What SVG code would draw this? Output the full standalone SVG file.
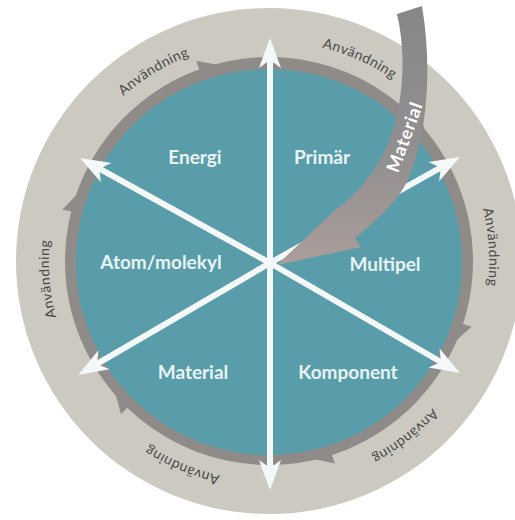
<svg xmlns="http://www.w3.org/2000/svg" xmlns:xlink="http://www.w3.org/1999/xlink" width="515" height="520" viewBox="0 0 515 520">
  <style>
    .node-label { font-family: Lato, "Liberation Sans", sans-serif; font-weight: 700; font-size: 19px; fill: #e8f3f3; text-anchor: middle; }
    .ring-label { font-family: Lato, "Liberation Sans", sans-serif; font-size: 14px; fill: #4a4a4a; letter-spacing: 0.5px; }
    .conn { stroke: #f4f8f8; stroke-width: 6; fill: none; marker-end: url(#ah); }
  </style>
  <defs>
    <marker id="ah" viewBox="-32 -12 34 24" refX="-20" refY="0" markerWidth="34" markerHeight="24" markerUnits="userSpaceOnUse" orient="auto">
      <path d="M0,0 L-30,-11 L-22,0 L-30,11 Z" fill="#f4f8f8"/>
    </marker>
    <path id="ringpath" d="M269,41 A220,220 0 1 1 269,481 A220,220 0 1 1 269,41"/>
    <polygon id="barb" points="269,60 269,48 291,61"/>
    <linearGradient id="matgrad" x1="0" y1="0" x2="0" y2="1">
      <stop offset="0" stop-color="#878787"/>
      <stop offset="0.6" stop-color="#939090"/>
      <stop offset="1" stop-color="#ab9d9a"/>
    </linearGradient>
  </defs>

  <g id="ring">
    <circle cx="269" cy="261" r="253" fill="#ccc9c0"/>
    <circle cx="269" cy="261" r="204" fill="#8f8b88"/>
    <g fill="#8f8b88">
      <use xlink:href="#barb" transform="rotate(45 269 261)"/>
      <use xlink:href="#barb" transform="rotate(108 269 261)"/>
      <use xlink:href="#barb" transform="rotate(162 269 261)"/>
      <use xlink:href="#barb" transform="rotate(224 269 261)"/>
      <use xlink:href="#barb" transform="rotate(284 269 261)"/>
      <use xlink:href="#barb" transform="rotate(340 269 261)"/>
    </g>
    <circle cx="269" cy="262" r="193" fill="#589da9"/>
    <text class="ring-label"><textPath xlink:href="#ringpath" startOffset="91.3%" text-anchor="middle">Användning</textPath></text>
    <text class="ring-label"><textPath xlink:href="#ringpath" startOffset="6.7%" text-anchor="middle">Användning</textPath></text>
    <text class="ring-label"><textPath xlink:href="#ringpath" startOffset="24.0%" text-anchor="middle">Användning</textPath></text>
    <text class="ring-label"><textPath xlink:href="#ringpath" startOffset="39.5%" text-anchor="middle">Användning</textPath></text>
    <text class="ring-label"><textPath xlink:href="#ringpath" startOffset="56.4%" text-anchor="middle">Användning</textPath></text>
    <text class="ring-label"><textPath xlink:href="#ringpath" startOffset="73.7%" text-anchor="middle">Användning</textPath></text>
  </g>

  <g id="connectors">
    <line class="conn" x1="270" y1="263" x2="270" y2="58"/>
    <line class="conn" x1="270" y1="263" x2="270" y2="470"/>
    <line class="conn" x1="270" y1="263" x2="97.5" y2="167.7"/>
    <line class="conn" x1="270" y1="263" x2="95.3" y2="364.9"/>
    <line class="conn" x1="270" y1="263" x2="442.7" y2="363"/>
    <line class="conn" x1="270" y1="263" x2="442.5" y2="166.7"/>
  </g>

  <g id="material-arrow">
    <path d="M397,14 C408,60 402,115 385,150 C372,178 350,200 335,210 L277,265 L361,247 L355,238 C375,222 392,205 401,192 C420,165 436,90 422,6 Z" fill="url(#matgrad)"/>
    <text transform="translate(405,137) rotate(-70)" x="0" y="6" font-family="Lato, 'Liberation Sans', sans-serif" font-weight="700" font-size="18" fill="#ffffff" text-anchor="middle" letter-spacing="0.8">Material</text>
  </g>

  <g id="node-energi"><text class="node-label" x="195" y="164">Energi</text></g>
  <g id="node-primar"><text class="node-label" x="322" y="164">Primär</text></g>
  <g id="node-atom"><text class="node-label" x="161" y="269">Atom/molekyl</text></g>
  <g id="node-multipel"><text class="node-label" x="385" y="271">Multipel</text></g>
  <g id="node-material"><text class="node-label" x="193" y="379">Material</text></g>
  <g id="node-komponent"><text class="node-label" x="348" y="379">Komponent</text></g>
</svg>
